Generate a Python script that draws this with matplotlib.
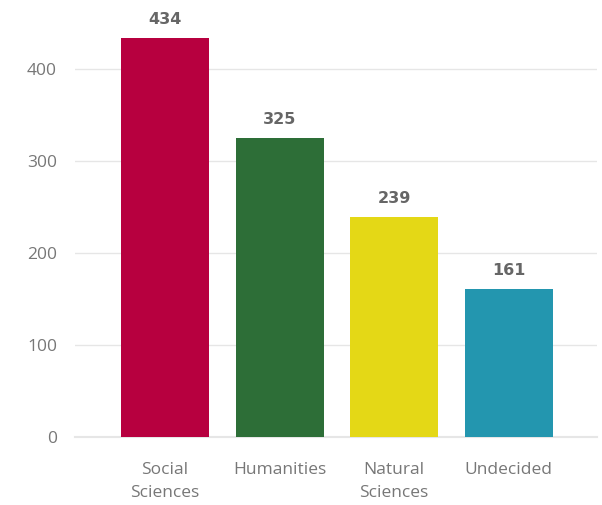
import numpy as np
import matplotlib.pyplot as plt

# データ
categories = ["Social\nSciences", "Humanities", "Natural\nSciences", "Undecided"]
counts = [434, 325, 239, 161]
colors = ["#B7003F", "#2D6E37", "#E4D816", "#2396AF"]
yticks = [0, 100, 200, 300, 400]

plt.rcParams['font.family'] = ['Open Sans', 'DejaVu Sans']

fig = plt.figure(figsize=(6.02, 5.05), dpi=100)
ax = fig.add_axes([75/602, 68/505, 522/602, 414/505])

x = np.arange(len(categories))
bars = ax.bar(x, counts, width=0.767, color=colors, zorder=2)

# 値ラベル
for xi, v in zip(x, counts):
    ax.annotate(str(v), (xi, v), xytext=(0, 8), textcoords="offset points",
                ha="center", va="bottom", fontsize=11.5, fontweight="semibold",
                color="#666666", family=["DejaVu Sans Condensed", "DejaVu Sans"])

ax.set_xlim(-0.785, 3.77)
ax.set_ylim(0, 450)
ax.set_xticks(x)
ax.set_xticklabels(categories, fontsize=12.5, color="#777777", linespacing=1.55)
ax.set_yticks(yticks)
ax.tick_params(axis="y", labelsize=12.5, labelcolor="#777777", length=0, pad=13)
ax.tick_params(axis="x", length=0, pad=18)
ax.yaxis.grid(True, color="#e6e6e6", linewidth=1, zorder=0)
ax.axhline(0, color="#e6e6e6", linewidth=1.5, zorder=1, clip_on=False)
ax.set_axisbelow(True)
for s in ax.spines.values():
    s.set_visible(False)

plt.savefig("out.png", dpi=100)
